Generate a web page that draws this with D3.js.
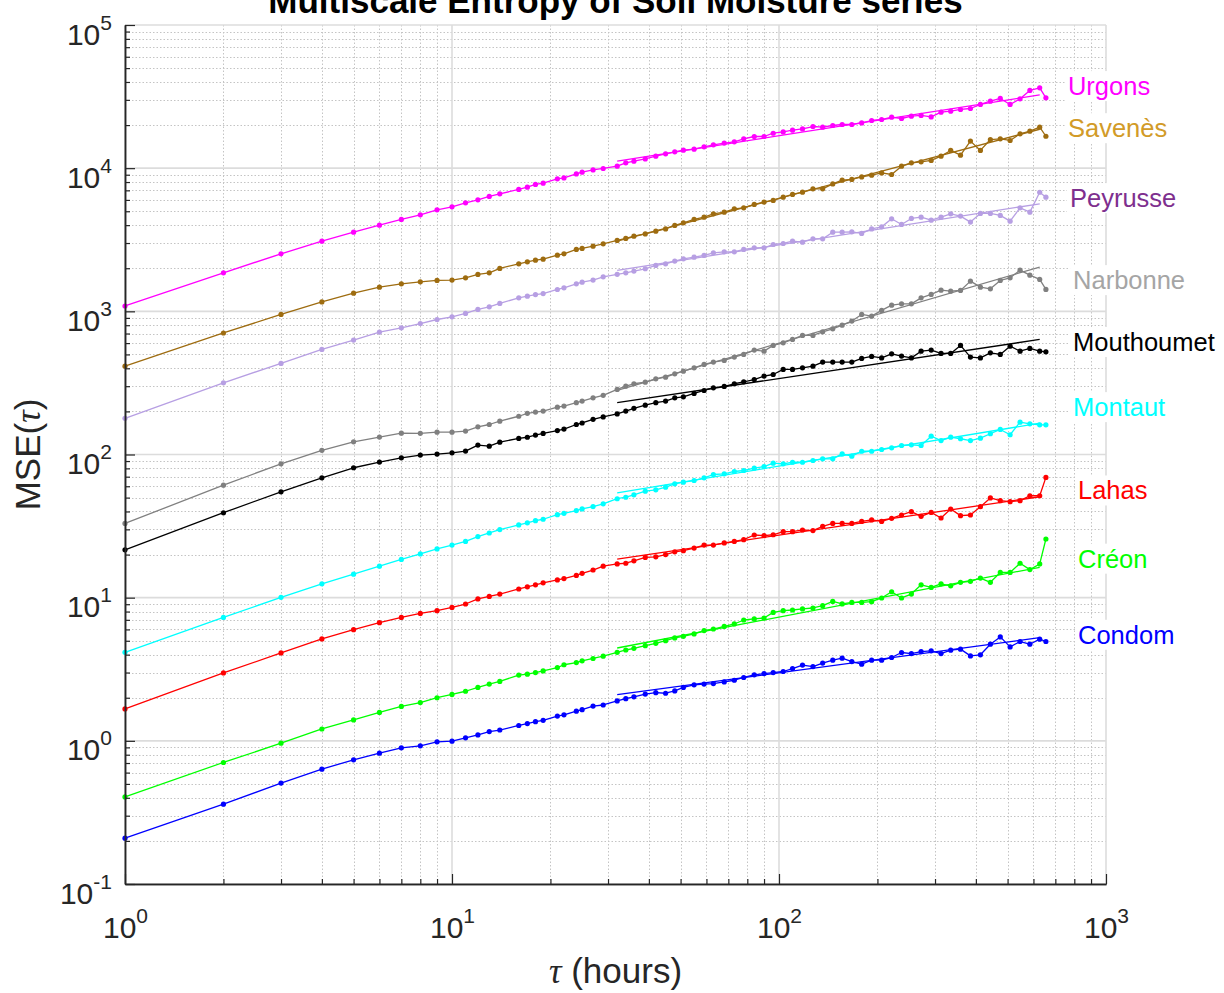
<!DOCTYPE html>
<html><head><meta charset="utf-8">
<script src="https://cdn.jsdelivr.net/npm/d3@7"></script>
<style>
html,body{margin:0;padding:0;background:#fff;}
svg{display:block;font-family:"Liberation Sans",Arial,Helvetica,sans-serif;}
</style></head><body>
<svg id="chart" width="1224" height="993"></svg>
<script>
// ---------------- data ----------------
const tau = [1,2,3,4,5,6,7,8,9,10,11,12,13,14,16,17,18,19,21,22,24,25,27,29,
  32,34,36,39,42,45,48,51,55,59,63,68,73,78,84,90,96,103,110,118,127,136,146,156,
  167,179,192,206,221,237,254,272,292,313,335,359,385,413,443,475,509,546,585,627,655];

const seriesNames = ["Urgons","Savenès","Peyrusse","Narbonne","Mouthoumet","Montaut","Lahas","Créon","Condom"];

const urgons = [1090,1858,2523,3093,3570,4000,4385,4725,5120,5370,5730,6010,6345,6620,7100,7370,7700,7860,8420,8550,9120,9370,9720,9950,
  10330,10890,11190,11610,12130,12590,13000,13360,13580,14090,14550,14960,15270,16020,16640,16640,17540,17910,18410,18800,19540,19330,19860,20180,
  20180,20700,21520,21870,22690,22230,23070,23340,22810,24600,25000,25700,26110,27860,29380,30690,27860,30500,34900,36400,31000];

const savenes = [414,706,951,1164,1340,1475,1556,1607,1643,1652,1713,1810,1858,1994,2147,2217,2278,2315,2468,2520,2706,2750,2853,2960,
  3126,3228,3350,3475,3630,3766,3980,4150,4385,4550,4800,4930,5200,5285,5580,5795,5950,6270,6550,6800,7170,7170,7760,8240,
  8340,8690,8930,9270,9030,10330,10890,11070,11320,12130,13300,12320,15450,13300,15850,16020,15610,17380,18130,19330,16710];

const peyrusse = [179,317,433,542,630,716,767,822,877,916,967,1031,1075,1135,1242,1276,1310,1331,1421,1460,1556,1599,1652,1742,
  1812,1858,1910,1983,2093,2148,2243,2328,2390,2456,2562,2604,2604,2706,2776,2776,2930,2978,3090,3040,3208,3208,3570,3570,
  3590,3500,3766,3890,4430,4045,4455,4550,4335,4550,4800,4625,4200,4830,4830,4680,4265,5285,4930,6790,6270];

const narbonne = [33.0,61.1,86.1,106.9,122.7,132.3,141,140.5,143.3,143.3,145.7,156,162,171,185,194,198,201,214,218,230,236,249,259,
  285,300,312,320,338,347,366,382,403,426,442,454,479,500,536,527,578,603,636,679,679,719,755,801,
  855,951,925,1015,1105,1128,1128,1242,1312,1406,1384,1399,1625,1476,1436,1643,1714,1940,1790,1670,1422];

const mouthoumet = [21.6,39.2,54.9,68.7,80.8,88.5,94.8,99.0,100.7,102.8,105.6,116.3,114.4,122,129.5,132,136.7,140.3,147,150.5,162,166,176,183,
  192,201,210,221,230,236,249,253,267,280,292,299,312,322,334,353,362,393,393,403,414,442,442,442,
  442,469,484,473,505,487,473,527,536,508,508,578,479,473,513,500,571,527,551,527,521];

const montaut = [4.15,7.28,10.05,12.5,14.6,16.6,18.5,20.2,21.9,23.3,24.7,26.7,28.3,29.9,32.2,33.3,34.5,35.3,38.0,38.8,40.6,41.7,43.3,45.2,
  49.1,50.3,52.3,55.4,56.7,59.1,62.4,64.1,65.8,68.7,72.5,73.3,76.1,77.3,80.2,82.4,87.0,86.1,88.3,88.3,90.8,93.3,93.3,101,
  97.3,105.4,105.4,108.4,111.3,115.6,116.9,115.6,134.2,125.2,132.1,128.8,125.2,130,139.6,149.6,137.4,168.2,163.8,161.1,161.1];

const lahas = [1.67,2.98,4.11,5.15,5.98,6.69,7.28,7.76,8.11,8.55,9.03,9.80,10.2,10.6,11.5,11.9,12.3,12.7,13.3,13.6,14.3,14.8,15.6,16.6,
  17.2,17.4,18.1,19.1,19.3,20.0,20.9,21.3,22.2,23.3,23.3,24.1,24.7,25.4,27.4,27.1,27.5,28.9,28.9,29.7,29.4,31.5,33.0,33.0,
  33.0,34.1,34.9,34.1,35.8,37.8,39.9,37.0,39.4,36.0,41.6,37.4,37.8,43.2,49.7,47.6,46.8,47.6,51.5,51.5,69.2];

const creon = [0.406,0.706,0.963,1.21,1.40,1.58,1.74,1.85,2.00,2.11,2.22,2.36,2.49,2.60,2.88,2.92,3.00,3.08,3.25,3.40,3.52,3.62,3.76,3.90,
  4.15,4.31,4.43,4.62,4.80,5.01,5.23,5.37,5.58,5.89,6.04,6.30,6.55,6.98,7.10,7.21,7.89,8.11,8.20,8.34,8.47,8.79,9.42,9.04,
  9.27,9.27,9.38,9.95,11.0,9.95,10.6,12.3,11.8,12.5,12.1,12.8,13.0,13.7,12.8,15.0,15.0,17.4,15.7,17.2,25.7];

const condom = [0.209,0.361,0.507,0.634,0.737,0.820,0.894,0.923,0.984,0.995,1.05,1.10,1.16,1.19,1.28,1.32,1.36,1.39,1.49,1.52,1.61,1.65,1.75,1.78,
  1.90,1.97,2.03,2.12,2.17,2.15,2.23,2.36,2.46,2.49,2.51,2.58,2.65,2.77,2.89,2.95,3.00,3.05,3.20,3.38,3.30,3.49,3.66,3.78,
  3.58,3.43,3.66,3.66,3.82,4.14,4.07,4.20,4.25,4.07,4.30,4.37,3.92,3.99,4.73,5.32,4.53,4.94,4.73,5.13,4.94];

const seriesValues = [urgons, savenes, peyrusse, narbonne, mouthoumet, montaut, lahas, creon, condom];

// power-law fit segments: tau range and MSE at both ends
const fitTau = [32, 627];
const fitStart = [11200, 3090, 1930, 280, 230, 54, 18.6, 4.45, 2.10];
const fitEnd   = [32500, 18700, 5640, 2040, 636, 165.5, 50.7, 16.3, 5.26];

// label anchor positions (data coordinates)
const labelTau = [765, 765, 776, 793, 793, 793, 821, 821, 821];
const labelMSE = [37400, 19000, 6170, 1650, 610, 214, 56, 18.7, 5.5];

const lineColors  = ["#FF00FF","#9E6C10","#B79FE3","#808080","#000000","#00FFFF","#FF0000","#00FF00","#0000FF"];
const labelColors = ["#FF00FF","#D29B28","#7E2F8E","#A5A5A5","#000000","#00FFFF","#FF0000","#00FF00","#0000FF"];

const xTickExps = ["0","1","2","3"];
const yTickExps = ["-1","0","1","2","3","4","5"];
const titleText = "Multiscale Entropy of Soil Moisture series";
const xLabelSymbol = "τ";
const xLabelRest = " (hours)";
const yLabelMain = "MSE(";
const yLabelEnd = ")";

// ---------------- layout ----------------
const svg = d3.select("#chart");
const L = 125, R = 1106, T = 25, B = 884;
const x = d3.scaleLog().domain([1, 1000]).range([L, R]);
const y = d3.scaleLog().domain([0.1, 1e5]).range([B, T]);

const isMajor = v => Math.abs(Math.log10(v) - Math.round(Math.log10(v))) < 1e-9;
const xTicksAll = x.ticks();
const yTicksAll = y.ticks();
const xMajor = xTicksAll.filter(isMajor), xMinor = xTicksAll.filter(v => !isMajor(v));
const yMajor = yTicksAll.filter(isMajor), yMinor = yTicksAll.filter(v => !isMajor(v));

// ---------------- grid ----------------
const grid = svg.append("g");
grid.selectAll(".vmin").data(xMinor).enter().append("line")
  .attr("x1", d => Math.round(x(d)) + 0.5).attr("x2", d => Math.round(x(d)) + 0.5)
  .attr("y1", T).attr("y2", B)
  .attr("stroke", "#c4c4c4").attr("stroke-width", 1).attr("stroke-dasharray", "1.5,2");
grid.selectAll(".hmin").data(yMinor).enter().append("line")
  .attr("y1", d => Math.round(y(d)) + 0.5).attr("y2", d => Math.round(y(d)) + 0.5)
  .attr("x1", L).attr("x2", R)
  .attr("stroke", "#c4c4c4").attr("stroke-width", 1).attr("stroke-dasharray", "1.5,2");
grid.selectAll(".vmaj").data(xMajor).enter().append("line")
  .attr("x1", d => x(d)).attr("x2", d => x(d))
  .attr("y1", T).attr("y2", B)
  .attr("stroke", "#dcdcdc").attr("stroke-width", 1.6);
grid.selectAll(".hmaj").data(yMajor).enter().append("line")
  .attr("y1", d => y(d)).attr("y2", d => y(d))
  .attr("x1", L).attr("x2", R)
  .attr("stroke", "#dcdcdc").attr("stroke-width", 1.6);

// ---------------- series ----------------
const line = d3.line().x(d => x(d[0])).y(d => y(d[1]));
const plot = svg.append("g");
seriesValues.forEach((vals, i) => {
  const pts = tau.map((t, k) => [t, vals[k]]);
  const g = plot.append("g");
  g.append("path").datum(pts).attr("d", line)
    .attr("fill", "none").attr("stroke", lineColors[i]).attr("stroke-width", 1.3)
    .attr("stroke-linejoin", "round");
  g.selectAll("circle").data(pts).enter().append("circle")
    .attr("cx", d => x(d[0])).attr("cy", d => y(d[1])).attr("r", 2.6)
    .attr("fill", lineColors[i]);
  g.append("path").datum([[fitTau[0], fitStart[i]], [fitTau[1], fitEnd[i]]]).attr("d", line)
    .attr("fill", "none").attr("stroke", lineColors[i]).attr("stroke-width", 1.3);
});

// ---------------- axes ----------------
const axisColor = "#262626";
const axes = svg.append("g");
const gxMin = axes.append("g").attr("transform", `translate(0,${B})`)
  .call(d3.axisBottom(x).tickValues(xMinor).tickSizeInner(-5).tickSizeOuter(0).tickFormat(""));
const gxMaj = axes.append("g").attr("transform", `translate(0,${B})`)
  .call(d3.axisBottom(x).tickValues(xMajor).tickSizeInner(-10).tickSizeOuter(0).tickFormat(""));
const gyMin = axes.append("g").attr("transform", `translate(${L},0)`)
  .call(d3.axisLeft(y).tickValues(yMinor).tickSizeInner(-5).tickSizeOuter(0).tickFormat(""));
const gyMaj = axes.append("g").attr("transform", `translate(${L},0)`)
  .call(d3.axisLeft(y).tickValues(yMajor).tickSizeInner(-10).tickSizeOuter(0).tickFormat(""));
[gxMin, gxMaj, gyMin, gyMaj].forEach(g => {
  g.selectAll("line").attr("stroke", axisColor).attr("stroke-width", 1.2);
  g.select(".domain").attr("stroke", axisColor).attr("stroke-width", 1.5);
});

// x tick labels: 10^n
gxMaj.selectAll(".tick text").each(function(d, i) {
  const t = d3.select(this);
  t.attr("y", 54).attr("dy", null).attr("x", 0)
    .attr("text-anchor", "middle").attr("fill", axisColor)
    .style("font-size", "30px");
  t.append("tspan").text("10");
  t.append("tspan").text(xTickExps[i]).attr("dy", -15).style("font-size", "21px");
});
// y tick labels
gyMaj.selectAll(".tick text").each(function(d, i) {
  const t = d3.select(this);
  t.attr("x", -13).attr("y", 19).attr("dy", null)
    .attr("text-anchor", "end").attr("fill", axisColor)
    .style("font-size", "30px");
  t.append("tspan").text("10");
  t.append("tspan").text(yTickExps[i]).attr("dy", -15).style("font-size", "21px");
});

// ---------------- titles ----------------
svg.append("text").attr("x", (L + R) / 2).attr("y", 13)
  .attr("text-anchor", "middle").style("font-size", "35px").style("font-weight", "bold")
  .attr("fill", "#000").text(titleText);

const xl = svg.append("text").attr("x", (L + R) / 2).attr("y", 983)
  .attr("text-anchor", "middle").style("font-size", "35px").attr("fill", axisColor);
xl.append("tspan").text(xLabelSymbol).style("font-style", "italic")
  .style("font-family", "'Liberation Serif','DejaVu Serif',serif");
xl.append("tspan").text(xLabelRest);

const yl = svg.append("text").attr("transform", `translate(40,${(T + B) / 2}) rotate(-90)`)
  .attr("text-anchor", "middle").style("font-size", "35px").attr("fill", axisColor);
yl.append("tspan").text(yLabelMain);
yl.append("tspan").text(xLabelSymbol).style("font-style", "italic")
  .style("font-family", "'Liberation Serif','DejaVu Serif',serif");
yl.append("tspan").text(yLabelEnd);

// ---------------- series labels ----------------
const labels = svg.append("g");
seriesNames.forEach((name, i) => {
  const g = labels.append("g");
  const rect = g.append("rect").attr("fill", "#fff");
  const txt = g.append("text").attr("x", x(labelTau[i])).attr("y", y(labelMSE[i]))
    .attr("dy", "0.35em").style("font-size", "25.5px").attr("fill", labelColors[i]).text(name);
  const bb = txt.node().getBBox();
  rect.attr("x", bb.x - 3).attr("y", bb.y - 1).attr("width", bb.width + 6).attr("height", bb.height + 2);
});
</script>
</body></html>
